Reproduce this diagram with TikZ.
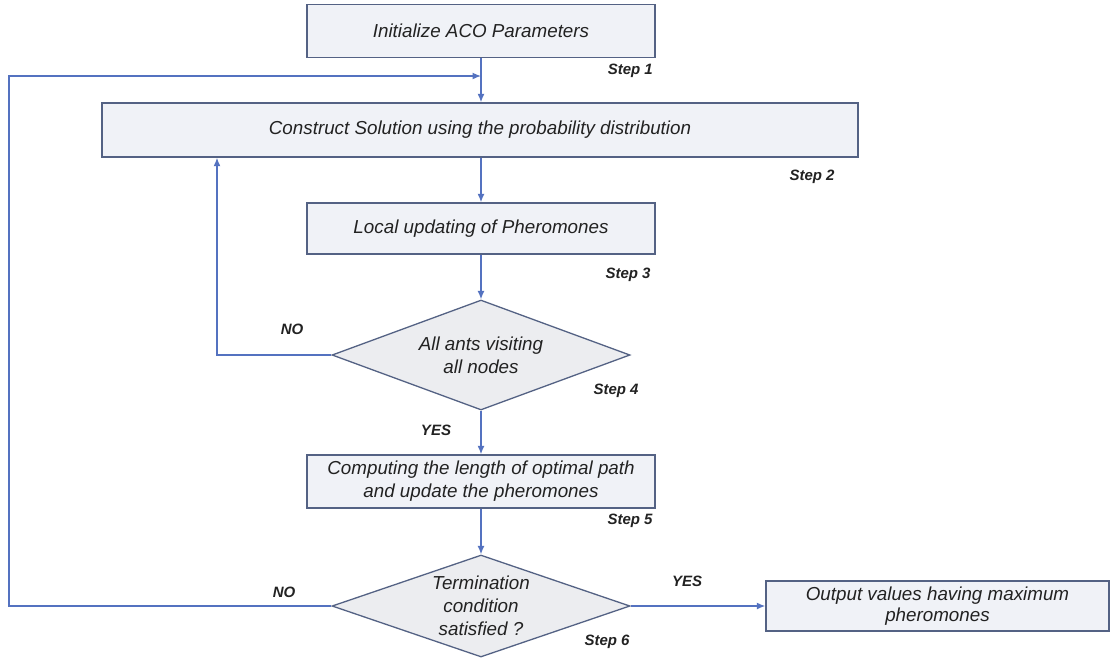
\documentclass[tikz,border=0pt]{standalone}
\usepackage{fontspec}
\setmainfont{Liberation Sans}
\usetikzlibrary{arrows.meta,shapes.geometric}
\definecolor{boxfill}{RGB}{240,242,247}
\definecolor{diafill}{RGB}{236,237,240}
\definecolor{boxline}{RGB}{84,98,132}
\definecolor{linkblue}{RGB}{84,114,192}
\definecolor{txt}{RGB}{34,34,34}
\begin{document}
\begin{tikzpicture}[x=1pt,y=-1pt,
  every node/.style={text=txt},
  maintext/.style={font=\fontsize{18.8}{23}\selectfont\itshape, align=center},
  procbox/.style={maintext, draw=boxline, fill=boxfill, line width=1.4pt, inner sep=0pt},
  decision/.style={maintext, diamond, draw=boxline, fill=diafill, line width=1.3pt, inner sep=0pt},
  steplabel/.style={font=\fontsize{15}{18}\selectfont\bfseries\itshape, inner sep=0pt},
  link/.style={draw=linkblue, line width=1.4pt},
  arrowlink/.style={link, -{Latex[length=8.5pt,width=7pt]}}]

\useasboundingbox[fill=white] (0,0) rectangle (1110,657);

% process boxes
\node[procbox, minimum width=348pt, minimum height=53pt] (init) at (481,31) {Initialize ACO Parameters};
\node[procbox, minimum width=756pt, minimum height=54pt] (construct) at (480,130) {Construct Solution using the probability distribution};
\node[procbox, minimum width=348pt, minimum height=51pt] (local) at (481,228.5) {Local updating of Pheromones};
\node[decision, aspect=2.71, minimum width=298pt, minimum height=110pt] (visit) at (481,355) {All ants visiting\\all nodes};
\node[procbox, minimum width=348pt, minimum height=53pt] (compute) at (481,481.5) {Computing the length of optimal path\\and update the pheromones};
\node[decision, aspect=2.92, minimum width=298pt, minimum height=102pt] (term) at (481,606) {Termination\\condition\\satisfied ?};
\node[procbox, minimum width=343pt, minimum height=50pt, font=\fontsize{18.8}{21}\selectfont\itshape] (output) at (937.5,606) {Output values having maximum\\pheromones};

% step labels
\node[steplabel, anchor=east] (s1) at (653,71) {Step 1};
\node[steplabel] (s2) at (812,177) {Step 2};
\node[steplabel] (s3) at (628,275) {Step 3};
\node[steplabel] (s4) at (616,391) {Step 4};
\node[steplabel] (s5) at (630,521) {Step 5};
\node[steplabel] (s6) at (607,642) {Step 6};

% branch labels
\node[steplabel] (no1) at (292,329) {NO};
\node[steplabel] (yes1) at (436,430) {YES};
\node[steplabel] (no2) at (284,592) {NO};
\node[steplabel] (yes2) at (687,581) {YES};

% routing points
\coordinate (join) at (481,76);
\coordinate (loopbottom) at (9,606);
\coordinate (looptop) at (9,76);
\coordinate (backcorner) at (217,355);

% connectors
\draw[arrowlink] (init.south) -- (init.south |- construct.north);
\draw[arrowlink] (local.north |- construct.south) -- (local.north);
\draw[arrowlink] (local.south) -- (visit.north);
\draw[arrowlink] (visit.south) -- (compute.north);
\draw[arrowlink] (compute.south) -- (term.north);
\draw[arrowlink] (term.east) -- (output.west);
\draw[arrowlink] (visit.west) -- (backcorner) -- (backcorner |- construct.south);
\draw[arrowlink] (term.west) -- (loopbottom) -- (looptop) -- (join);

\end{tikzpicture}
\end{document}
